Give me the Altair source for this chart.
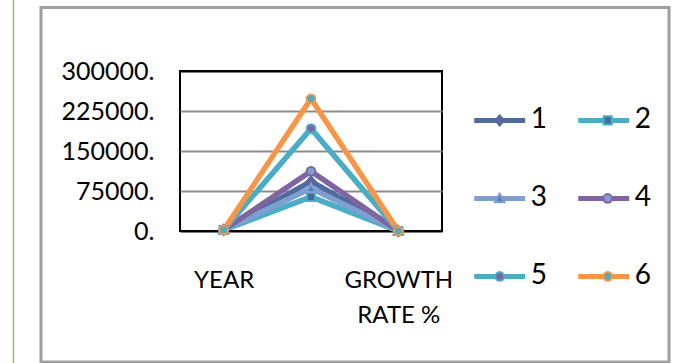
import altair as alt
import pandas as pd

# ---- data ----
series = ["1", "2", "3", "4", "5", "6"]
categories = ["YEAR", "VALUE", "GROWTH RATE %"]
year_values = [2011, 2012, 2013, 2014, 2015, 2016]
mid_values = [93000, 64000, 80000, 112000, 192000, 248000]
growth_values = [0, -31, 25, 40, 71, 29]
y_ticks = [0, 75000, 150000, 225000, 300000]

line_colors = ["#4E6C9E", "#4BACC6", "#7F9FD0", "#8064A2", "#4BACC6", "#F79646"]
marker_fills = ["#6F5F9E", "#4A6A9E", "#4F81BD", "#7F9FD0", "#8064A2", "#4BACC6"]

ext = "M-1,0M1,0"
circle = "M0.16,0A0.16,0.16,0,1,1,-0.16,0A0.16,0.16,0,1,1,0.16,0Z"
marker_paths = [
    ext + "M0,-0.19L0.16,0L0,0.19L-0.16,0Z",
    ext + "M-0.15,-0.15H0.15V0.15H-0.15Z",
    ext + "M0,-0.17L0.18,0.14H-0.18Z",
    ext + circle,
    ext + circle,
    ext + circle,
]

rows = []
for i, s in enumerate(series):
    for c, v in zip(categories, [year_values[i], mid_values[i], growth_values[i]]):
        rows.append({"series": s, "mseries": s, "category": c, "value": v})
df = pd.DataFrame(rows)

FONT = "Lato"

x_enc = alt.X(
    "category:N",
    sort=categories,
    scale=alt.Scale(type="point", padding=0.5),
    axis=alt.Axis(
        title=None,
        labelExpr="datum.label == 'GROWTH RATE %' ? ['GROWTH', 'RATE %'] : (datum.label == 'VALUE' ? '' : datum.label)",
        labelAngle=0, labelFont=FONT, labelFontSize=24, labelColor="#000000",
        labelPadding=37, labelLineHeight=35, domain=False, ticks=False, tickSize=0,
        grid=False, labelOverlap=False, labelBound=False, labelFlush=False,
    ),
)
y_enc = alt.Y(
    "value:Q",
    scale=alt.Scale(domain=[0, 300000], nice=False, zero=True),
    axis=alt.Axis(
        title=None, values=y_ticks,
        labelExpr="format(datum.value, 'd') + '.'",
        grid=True,
        gridColor={"condition": {"test": "datum.value == 0 || datum.value == 300000",
                                 "value": "#000000"}, "value": "#8C8C8C"},
        gridWidth=2,
        domain=False, ticks=False, tickSize=0, labelPadding=26,
        labelFont=FONT, labelFontSize=25, labelColor="#000000",
    ),
)

common_leg = dict(
    orient="none", legendX=291.7, legendY=21.4, columns=2, direction="horizontal",
    title=None, labelFont=FONT, labelFontSize=28, labelColor="#000000", labelOffset=3,
    rowPadding=36, padding=0,
)
legA = alt.Legend(symbolType="M-1,0H1", symbolSize=2601, symbolStrokeWidth=5,
                  columnPadding=20, **common_leg)
legB = alt.Legend(symbolSize=2916, symbolStrokeWidth=2, labelExpr="''",
                  columnPadding=46, **common_leg)

base = alt.Chart(df)

lines = base.mark_line(strokeWidth=5.5, strokeJoin="round", strokeCap="round").encode(
    x=x_enc, y=y_enc,
    color=alt.Color("series:N", scale=alt.Scale(range=line_colors), legend=legA),
)

points = base.mark_point(filled=True, size=2916, strokeWidth=2, opacity=1).encode(
    x=x_enc, y=y_enc,
    fill=alt.Fill("mseries:N", scale=alt.Scale(range=marker_fills), legend=legB),
    stroke=alt.Stroke("mseries:N", scale=alt.Scale(range=line_colors), legend=legB),
    shape=alt.Shape("mseries:N", scale=alt.Scale(range=marker_paths), legend=legB),
)

one = pd.DataFrame({"k": [0]})
frame = alt.Chart(one).mark_rect(fill="transparent", stroke="#9E9E9E", strokeWidth=3).encode(
    x=alt.value(-139), x2=alt.value(489), y=alt.value(-63.5), y2=alt.value(291)
)
margin_line = alt.Chart(one).mark_rule(color="#8FC07A", strokeWidth=1.5).encode(
    x=alt.value(-166.5), y=alt.value(-71), y2=alt.value(292)
)

chart = (
    alt.layer(margin_line, frame, lines, points)
    .properties(
        width=262, height=160,
        autosize=alt.AutoSizeParams(type="none"),
        padding={"left": 180, "top": 71, "right": 239, "bottom": 132},
        background="#FFFFFF",
    )
    .configure(font=FONT)
    .configure_view(stroke="#000000", strokeWidth=2)
)

chart.save("out.html", embed_options={"renderer": "svg", "actions": False})
